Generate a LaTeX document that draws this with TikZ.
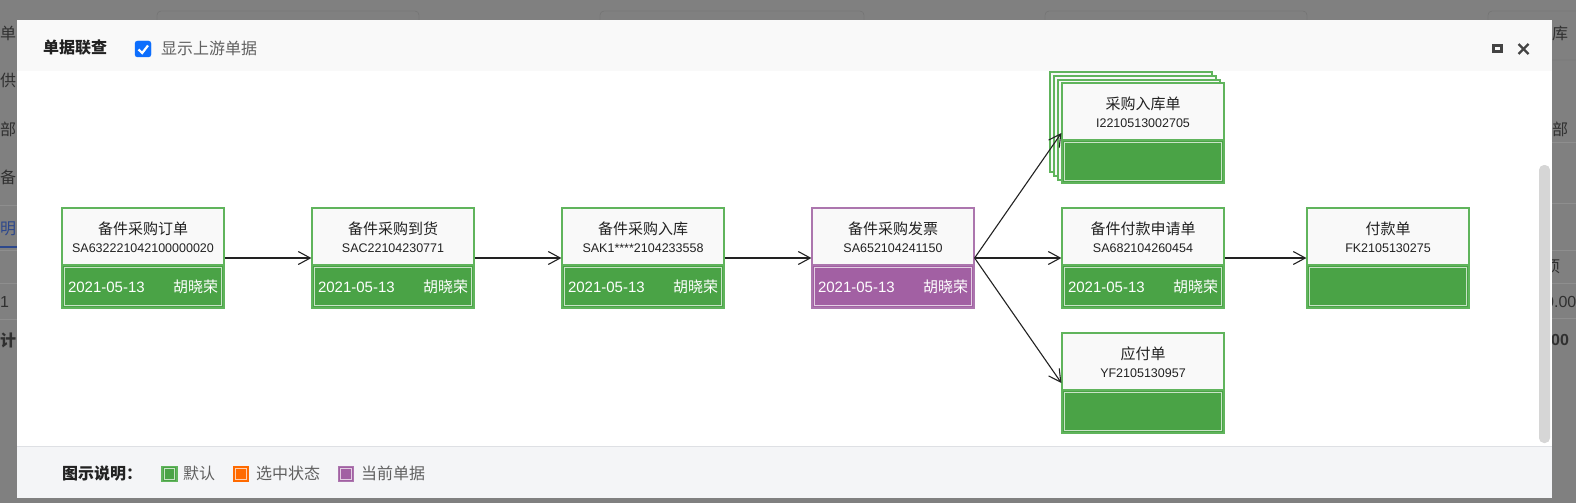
\documentclass[tikz,border=0pt]{standalone}
\usepackage{fontspec}
\setmainfont{Liberation Sans}
\newfontfamily\cjk{Noto Sans CJK SC}
\usetikzlibrary{arrows.meta}

\definecolor{pagegrey}{RGB}{128,128,128}
\definecolor{bgtext}{RGB}{48,48,48}
\definecolor{bgline}{RGB}{142,142,142}
\definecolor{bgblue}{RGB}{45,72,140}
\definecolor{inputline}{RGB}{112,112,112}
\definecolor{headbg}{RGB}{249,249,249}
\definecolor{footbg}{RGB}{244,245,247}
\definecolor{footline}{RGB}{222,224,228}
\definecolor{cardbg}{RGB}{249,249,249}
\definecolor{billgreen}{RGB}{96,180,92}
\definecolor{bandgreen}{RGB}{74,163,70}
\definecolor{billpurple}{RGB}{172,118,174}
\definecolor{bandpurple}{RGB}{162,96,163}
\definecolor{keyorange}{RGB}{255,106,0}
\definecolor{titletext}{RGB}{34,34,34}
\definecolor{greytext}{RGB}{96,96,96}
\definecolor{linegrey}{RGB}{34,34,34}
\definecolor{icongrey}{RGB}{68,68,68}
\definecolor{checkblue}{RGB}{13,110,253}
\definecolor{scrollgrey}{RGB}{214,214,214}

\begin{document}
\begin{tikzpicture}[x=1pt, y=-1pt,
    bill/.style={draw=billgreen, fill=cardbg, line width=1.2, minimum width=162, minimum height=100,
        inner sep=0, text height=44, text depth=56, align=center, text=titletext,
        font=\fontsize{15}{17.5}\selectfont},
    band/.style={draw=billgreen, fill=bandgreen, line width=1.2, minimum width=162, minimum height=43,
        inner xsep=6, inner ysep=0, text=white, font=\fontsize{15}{18}\selectfont, anchor=south,
        path picture={\draw[white, opacity=0.7, line width=1]
            ([shift={(2.2,2.2)}]path picture bounding box.north west) rectangle
            ([shift={(-2.2,-2.2)}]path picture bounding box.south east);}},
    current/.style={draw=billpurple, fill=bandpurple},
    stackcopy/.style={draw=billgreen, fill=cardbg, line width=1.2},
    flow/.style={draw=linegrey, line width=1.1, -{Straight Barb[length=12pt,width=13pt]}},
    keybox/.style={minimum size=15, inner sep=0, line width=1.2,
        path picture={\draw[white, opacity=0.7, line width=1]
            ([shift={(2.2,2.2)}]path picture bounding box.north west) rectangle
            ([shift={(-2.2,-2.2)}]path picture bounding box.south east);}},
    keytext/.style={anchor=west, inner sep=0, text=greytext, font=\cjk\fontsize{16}{18}\selectfont},
    bgword/.style={inner sep=0, text=bgtext, font=\cjk\fontsize{16}{18}\selectfont}
    ]
    \useasboundingbox (0,0) rectangle (1576,503);
    % page behind the dialog
    \fill[pagegrey] (0,0) rectangle (1576,503);
    \draw[inputline, rounded corners=4] (157,11) rectangle (419,60);
    \draw[inputline, rounded corners=4] (600,11) rectangle (864,60);
    \draw[inputline, rounded corners=4] (1045,11) rectangle (1307,60);
    \draw[inputline, rounded corners=4] (1488,11) rectangle (1600,60);
    \draw[bgline] (0,205) -- (20,205);
    \draw[bgline] (0,250) -- (20,250);
    \draw[bgline] (0,283) -- (20,283);
    \draw[bgline] (0,319) -- (20,319);
    \draw[bgblue, line width=2] (0,247) -- (20,247);
    \draw[bgline] (1550,142) -- (1576,142);
    \draw[bgline] (1550,203) -- (1576,203);
    \draw[bgline] (1550,250) -- (1576,250);
    \draw[bgline] (1550,283) -- (1576,283);
    \draw[bgline] (1550,318) -- (1576,318);
    \node (bg a) [bgword, anchor=west] at (0,33) {单};
    \node (bg b) [bgword, anchor=west] at (0,80) {供};
    \node (bg c) [bgword, anchor=west] at (0,129) {部};
    \node (bg d) [bgword, anchor=west] at (0,177) {备};
    \node (bg e) [bgword, anchor=west, text=bgblue] at (0,229) {明};
    \node (bg f) [bgword, anchor=west, font=\fontsize{16}{18}\selectfont] at (0,302) {1};
    \node (bg g) [bgword, anchor=west, font=\cjk\bfseries\fontsize{16}{18}\selectfont] at (0,340) {计};
    \node (bg h) [bgword, anchor=west] at (1552,33) {库};
    \node (bg i) [bgword, anchor=west] at (1552,129) {部};
    \node (bg j) [bgword, anchor=west] at (1544,267) {项};
    \node (bg k) [bgword, anchor=west, font=\fontsize{16}{18}\selectfont] at (1545,302) {0.00};
    \node (bg l) [bgword, anchor=west, font=\bfseries\fontsize{16}{18}\selectfont] at (1551,340) {00};
    % dialog
    \fill[white] (17,20) rectangle (1552,498);
    \fill[headbg] (17,20) rectangle (1552,71);
    \fill[footbg] (17,446) rectangle (1552,498);
    \draw[footline] (17,446) -- (1552,446);
    \fill[scrollgrey, rounded corners=5] (1539,165) rectangle (1550,443);
    \node (title) [anchor=west, inner sep=0, text=titletext, font=\cjk\bfseries\fontsize{16}{18}\selectfont] at (43,48) {单据联查};
    \filldraw[fill=checkblue, draw=checkblue, rounded corners=2.5] (135,41) rectangle (151,57);
    \draw[white, line width=2.2] (138.5,49.5) -- (142.2,53) -- (148,45.5);
    \node (upstream) [anchor=west, inner sep=0, text=greytext, font=\cjk\fontsize{16}{18}\selectfont] at (161,48) {显示上游单据};
    \draw[icongrey, line width=2.8] (1493.2,45.5) rectangle (1501.8,51.4);
    \draw[icongrey, line width=2.4] (1518.5,44) -- (1528.5,54);
    \draw[icongrey, line width=2.4] (1518.5,54) -- (1528.5,44);
    % bills
    \node (po) [bill] at (143,258) {{\cjk 备件采购订单}\\{\fontsize{12.5}{14}\selectfont SA632221042100000020}};
    \node (po band) [band] at (po.south) {\makebox[150pt]{2021-05-13\hfill{\cjk 胡晓荣}}};
    \node (arrival) [bill] at (393,258) {{\cjk 备件采购到货}\\{\fontsize{12.5}{14}\selectfont SAC22104230771}};
    \node (arrival band) [band] at (arrival.south) {\makebox[150pt]{2021-05-13\hfill{\cjk 胡晓荣}}};
    \node (stockin) [bill] at (643,258) {{\cjk 备件采购入库}\\{\fontsize{12.5}{14}\selectfont SAK1****2104233558}};
    \node (stockin band) [band] at (stockin.south) {\makebox[150pt]{2021-05-13\hfill{\cjk 胡晓荣}}};
    \node (invoice) [bill, draw=billpurple] at (893,258) {{\cjk 备件采购发票}\\{\fontsize{12.5}{14}\selectfont SA652104241150}};
    \node (invoice band) [band, current] at (invoice.south) {\makebox[150pt]{2021-05-13\hfill{\cjk 胡晓荣}}};
    \filldraw[stackcopy] (1050,72) rectangle ++(162,100);
    \filldraw[stackcopy] (1054,76) rectangle ++(162,100);
    \filldraw[stackcopy] (1058,80) rectangle ++(162,100);
    \node (receipt) [bill] at (1143,133) {{\cjk 采购入库单}\\{\fontsize{12.5}{14}\selectfont I2210513002705}};
    \node (receipt band) [band] at (receipt.south) {};
    \node (request) [bill] at (1143,258) {{\cjk 备件付款申请单}\\{\fontsize{12.5}{14}\selectfont SA682104260454}};
    \node (request band) [band] at (request.south) {\makebox[150pt]{2021-05-13\hfill{\cjk 胡晓荣}}};
    \node (payment) [bill] at (1388,258) {{\cjk 付款单}\\{\fontsize{12.5}{14}\selectfont FK2105130275}};
    \node (payment band) [band] at (payment.south) {};
    \node (payable) [bill] at (1143,383) {{\cjk 应付单}\\{\fontsize{12.5}{14}\selectfont YF2105130957}};
    \node (payable band) [band] at (payable.south) {};
    \draw[flow] (po.east) -- (arrival.west);
    \draw[flow] (arrival.east) -- (stockin.west);
    \draw[flow] (stockin.east) -- (invoice.west);
    \draw[flow] (invoice.east) -- (receipt.west);
    \draw[flow] (invoice.east) -- (request.west);
    \draw[flow] (invoice.east) -- (payable.west);
    \draw[flow] (request.east) -- (payment.west);
    % legend
    \node (legend) [anchor=west, inner sep=0, text=titletext, font=\cjk\bfseries\fontsize{16}{18}\selectfont] at (62,473) {图示说明：};
    \node (key default) [keybox, draw=billgreen, fill=bandgreen] at (169.5,474) {};
    \node (key default text) [keytext] at (183,473) {默认};
    \node (key selected) [keybox, draw=keyorange, fill=keyorange] at (241,474) {};
    \node (key selected text) [keytext] at (256,473) {选中状态};
    \node (key current) [keybox, draw=billpurple, fill=bandpurple] at (346,474) {};
    \node (key current text) [keytext] at (361,473) {当前单据};
\end{tikzpicture}
\end{document}
